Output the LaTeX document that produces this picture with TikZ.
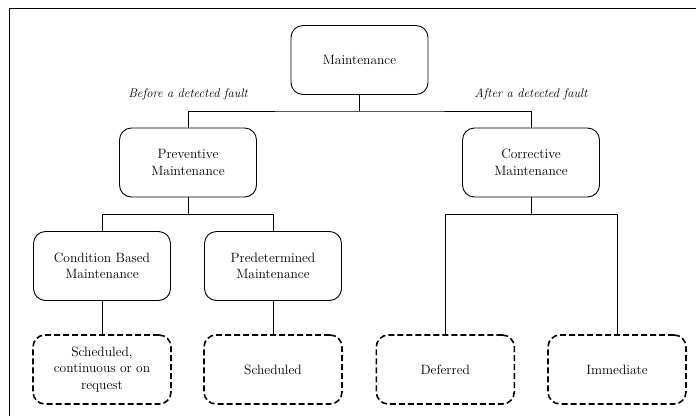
\documentclass[tikz,border=0pt]{standalone}
\begin{document}
\begin{tikzpicture}[x=1pt,y=-1pt,
  every node/.style={font=\fontsize{13.5}{16.5}\selectfont},
  solidbox/.style={draw, line width=0.9pt, rounded corners=12pt,
    minimum width=137pt, minimum height=69pt, align=center, inner sep=0pt},
  dashbox/.style={draw, line width=1.6pt, dash pattern=on 6pt off 3pt,
    rounded corners=12pt, minimum width=138pt, minimum height=69pt,
    align=center, inner sep=0pt},
  link/.style={draw, line width=0.8pt},
  note/.style={font=\fontsize{12.5}{14}\selectfont\itshape}]
\useasboundingbox (0,0) rectangle (696,416);
% outer frame
\draw[line width=0.9pt] (696,8) -- (9,8) -- (9,416);

% boxes
\node[solidbox] (main) at (359.5,60) {Maintenance};
\node[solidbox] (prev) at (188,162.5) {Preventive\\Maintenance};
\node[solidbox] (corr) at (531,162.5) {Corrective\\Maintenance};
\node[solidbox] (cond) at (102,266) {Condition Based\\Maintenance};
\node[solidbox] (pred) at (273,266) {Predetermined\\Maintenance};
\node[dashbox] (sched1) at (102,369.5) {Scheduled,\\continuous or on\\request};
\node[dashbox] (sched2) at (273,369.5) {Scheduled};
\node[dashbox] (defer) at (445.3,369.5) {Deferred};
\node[dashbox] (immed) at (617,369.5) {Immediate};

% labels
\node[note] (before) at (188,94) {Before a detected fault};
\node[note] (after) at (531,94) {After a detected fault};

% junctions
\coordinate (j1) at (359.5,111);
\coordinate (j2) at (188,214.7);
\coordinate (j3) at (531,214.7);

% connectors
\draw[link] (main.south) -- (j1);
\draw[link] (prev.north) |- (j1) -| (corr.north);
\draw[link] (prev.south) -- (j2);
\draw[link] (cond.north) |- (j2) -| (pred.north);
\draw[link] (corr.south) -- (j3);
\draw[link] (defer.north) |- (j3) -| (immed.north);
\draw[link] (cond.south) -- (sched1.north);
\draw[link] (pred.south) -- (sched2.north);
\end{tikzpicture}
\end{document}
